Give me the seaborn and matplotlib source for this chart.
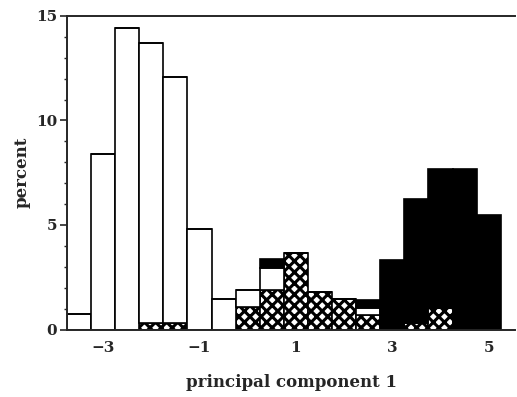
import numpy as np
import pandas as pd
import matplotlib
matplotlib.use("Agg")
import matplotlib.pyplot as plt
import seaborn as sns

# bin centers (principal component 1), bin width 0.5
centers = [-3.5, -3.0, -2.5, -2.0, -1.5, -1.0, -0.5, 0.0, 0.5,
           1.0, 1.5, 2.0, 2.5, 3.0, 3.5, 4.0, 4.5, 5.0]
# percent per bin for each group (stacked: hatched bottom, open middle, solid top)
hatched = [0, 0, 0, 0.3, 0.3, 0, 0, 1.08, 1.87,
           3.67, 1.81, 1.45, 0.69, 0, 0.3, 1.03, 0, 0]
open_ = [0.74, 8.4, 14.4, 13.4, 11.8, 4.8, 1.44, 0.81, 1.06,
         0, 0, 0, 0.34, 0, 0, 0, 0, 0]
solid = [0, 0, 0, 0, 0, 0, 0, 0, 0.43,
         0, 0, 0, 0.38, 3.33, 5.94, 6.64, 7.67, 5.48]
groups = ["solid", "open", "hatched"]   # seaborn stacks first level on top
xticks = [-3, -1, 1, 3, 5]
yticks = [0, 5, 10, 15]

rows = []
for g, vals in zip(["hatched", "open", "solid"], [hatched, open_, solid]):
    for c, v in zip(centers, vals):
        rows.append({"pc1": c, "pct": v, "group": g})
df = pd.DataFrame(rows)

sns.set_style("ticks")
plt.rcParams["font.family"] = ["DejaVu Serif"]
plt.rcParams["font.weight"] = "bold"
plt.rcParams["hatch.linewidth"] = 2.2
plt.rcParams["hatch.color"] = "black"

fig = plt.figure(figsize=(5.17, 3.97), dpi=100)
ax = fig.add_axes([0.1296, 0.170, 0.867, 0.790])

sns.histplot(data=df, x="pc1", weights="pct", hue="group", hue_order=groups,
             binwidth=0.5, binrange=(-3.75, 5.25), multiple="stack", ax=ax,
             legend=False,
             palette={"hatched": "white", "open": "white", "solid": "black"},
             edgecolor="black", linewidth=1.2, alpha=1)

# style containers: identify the hatched one by its heights
for cont in ax.containers:
    h = np.array([p.get_height() for p in cont.patches])
    if len(h) == len(hatched) and np.allclose(h, hatched):
        for p in cont.patches:
            p.set_hatch("xxx")
            p.set_facecolor("white")
            p.set_edgecolor("black")

ax.set_xlim(-3.75, 5.55)
ax.set_ylim(0, 15)
ax.set_xticks(xticks)
ax.set_xticklabels(["\u22123", "\u22121", "1", "3", "5"])
ax.set_yticks(yticks)
ax.set_yticks(np.arange(0, 16, 1), minor=True)
ax.tick_params(axis="x", length=0, labelsize=11, pad=8)
ax.tick_params(axis="y", which="major", length=5, width=1.2, labelsize=11, pad=2)
ax.tick_params(axis="y", which="minor", length=2.5, width=1.0)
for s in ["left", "bottom", "top"]:
    ax.spines[s].set_linewidth(1.4)
    ax.spines[s].set_visible(True)
ax.spines["right"].set_visible(False)
ax.set_xlabel("principal component 1", fontsize=12, fontweight="bold", labelpad=14)
ax.set_ylabel("percent", fontsize=12, fontweight="bold", labelpad=4)

fig.savefig("out.png", dpi=100)
